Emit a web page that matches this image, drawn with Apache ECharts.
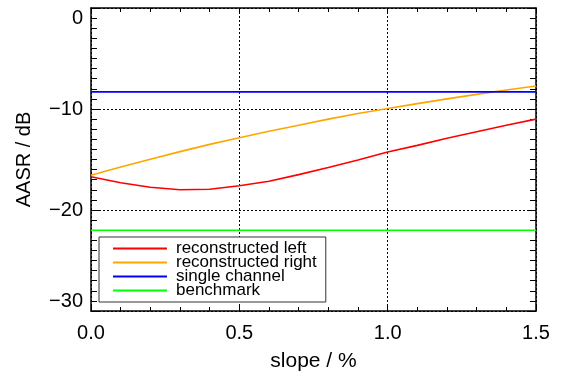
<!DOCTYPE html>
<html>
<head>
<meta charset="utf-8">
<script src="https://cdn.jsdelivr.net/npm/echarts@6/dist/echarts.min.js"></script>
<style>
  html, body { margin: 0; padding: 0; background: #fff; }
  #chart { width: 562px; height: 377px; }
</style>
</head>
<body>
<div id="chart"></div>
<script>
// slope values (%)
var slopes = [0.0, 0.1, 0.2, 0.3, 0.4, 0.5, 0.6, 0.7, 0.8, 0.9, 1.0, 1.1, 1.2, 1.3, 1.4, 1.5];
// AASR (dB)
var reconLeft = [-16.7, -17.3, -17.75, -18.0, -17.95, -17.6, -17.15, -16.5, -15.8, -15.05, -14.25, -13.6, -12.9, -12.25, -11.6, -11.0];
var reconRight = [-16.55, -15.75, -14.98, -14.22, -13.5, -12.85, -12.2, -11.6, -11.0, -10.45, -9.95, -9.47, -9.0, -8.55, -8.12, -7.72];
var singleChannel = -8.3;
var benchmark = -22.0;
var seriesNames = ["reconstructed left", "reconstructed right", "single channel", "benchmark"];
var seriesColors = ["#ff0000", "#ffa500", "#0000ff", "#00ff00"];
var xTicks = ["0.0", "0.5", "1.0", "1.5"];

function pairs(xs, ys) {
    return xs.map(function (x, i) { return [x, ys[i]]; });
}
function flat(v) {
    return [[slopes[0], v], [slopes[slopes.length - 1], v]];
}

var chart = echarts.init(document.getElementById("chart"), null, { renderer: "canvas" });
var font = "'Liberation Sans', Arial, Helvetica, sans-serif";
var dotted = { color: "#000", width: 1, type: [2, 2] };

var xBase = {
    type: "value", min: 0, max: 1.5, interval: 0.5,
    axisLine: { show: true, onZero: false, lineStyle: { color: "#000", width: 1.5 } },
    axisTick: { show: true, inside: true, length: 6, lineStyle: { color: "#000" } },
    minorTick: { show: true, splitNumber: 5, length: 4, lineStyle: { color: "#000" } }
};
var yBase = {
    type: "value", min: -30, max: 0, interval: 10,
    axisLine: { show: true, onZero: false, lineStyle: { color: "#000", width: 1.5 } },
    axisTick: { show: true, inside: true, length: 8, lineStyle: { color: "#000" } },
    minorTick: { show: true, splitNumber: 10, length: 6, lineStyle: { color: "#000" } }
};

var lineData = [
    pairs(slopes, reconLeft),
    pairs(slopes, reconRight),
    flat(singleChannel),
    flat(benchmark)
];

var option = {
    animation: false,
    backgroundColor: "#fff",
    textStyle: { fontFamily: font },
    grid: { left: 91, top: 8, width: 445, height: 308 },
    legend: {
        orient: "vertical",
        left: 99, top: 237,
        padding: [3, 9, 3, 14],
        itemGap: -3,
        itemWidth: 54, itemHeight: 2,
        icon: "rect",
        backgroundColor: "#fff",
        borderColor: "#333", borderWidth: 1,
        textStyle: { fontFamily: font, fontSize: 17, color: "#000", padding: [0, 0, 0, 4] },
        data: seriesNames
    },
    xAxis: [
        Object.assign({}, xBase, {
            position: "bottom",
            name: "slope / %", nameLocation: "middle", nameGap: 40,
            nameTextStyle: { fontFamily: font, fontSize: 21, color: "#000" },
            axisLabel: {
                fontFamily: font, fontSize: 20, color: "#000", margin: 12,
                formatter: function (v) { return xTicks[Math.round(v / 0.5)]; }
            },
            splitLine: { show: true, lineStyle: dotted }
        }),
        Object.assign({}, xBase, {
            position: "top",
            axisLabel: { show: false },
            splitLine: { show: false }
        })
    ],
    yAxis: [
        Object.assign({}, yBase, {
            position: "left",
            name: "AASR / dB", nameLocation: "middle", nameGap: 57,
            nameTextStyle: { fontFamily: font, fontSize: 20, color: "#000" },
            axisLabel: {
                fontFamily: font, fontSize: 20, color: "#000", margin: 8,
                verticalAlignMinLabel: "bottom", verticalAlignMaxLabel: "top",
                formatter: function (v) { return v < 0 ? "\u2212" + Math.abs(v) : String(v); }
            },
            splitLine: { show: true, lineStyle: dotted }
        }),
        Object.assign({}, yBase, {
            position: "right",
            axisLabel: { show: false },
            splitLine: { show: false }
        })
    ],
    series: seriesNames.map(function (name, i) {
        return {
            name: name,
            type: "line",
            xAxisIndex: 0, yAxisIndex: 0,
            data: lineData[i],
            symbol: "none",
            color: seriesColors[i],
            lineStyle: { color: seriesColors[i], width: 1.6 },
            z: 3
        };
    })
};
chart.setOption(option);
</script>
</body>
</html>
